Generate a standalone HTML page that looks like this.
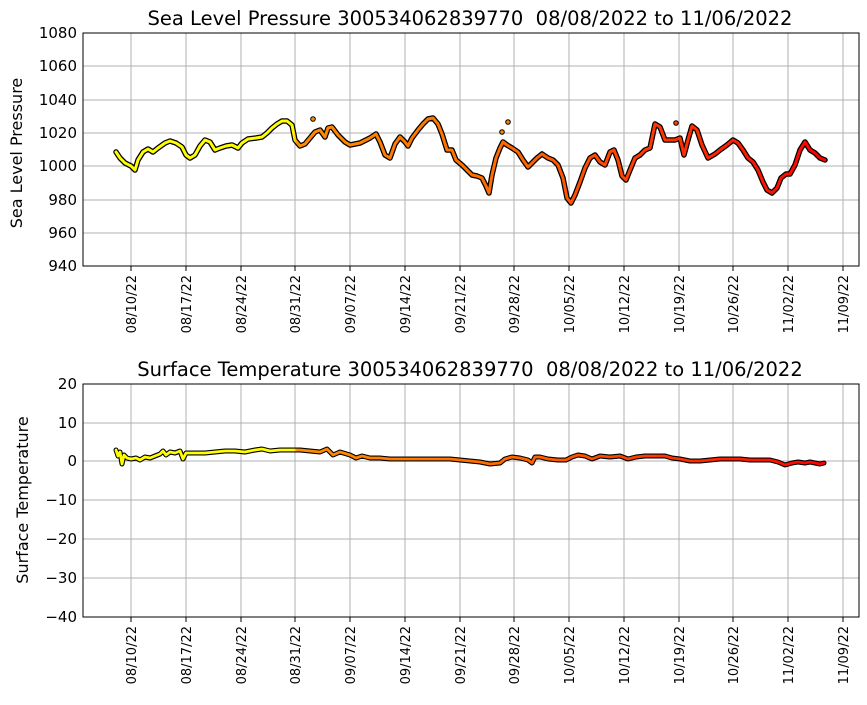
<!DOCTYPE html>
<html><head><meta charset="utf-8"><style>
body{margin:0;background:#fff;}
text{font-family:"DejaVu Sans","Liberation Sans",sans-serif;fill:#000;}
</style></head><body>
<svg width="867" height="700" xmlns="http://www.w3.org/2000/svg">
<defs>
<linearGradient id="g" gradientUnits="userSpaceOnUse" x1="116" y1="0" x2="826" y2="0">
<stop offset="0" stop-color="#ffff00"/>
<stop offset="0.25" stop-color="#ffff00"/>
<stop offset="0.255" stop-color="#ff8c00"/>
<stop offset="0.55" stop-color="#ff6a00"/>
<stop offset="0.75" stop-color="#ff3a00"/>
<stop offset="1" stop-color="#ff0000"/>
</linearGradient>
</defs>
<g stroke="#b0b0b0" stroke-width="1">
<line x1="131" y1="33" x2="131" y2="266"/><line x1="186" y1="33" x2="186" y2="266"/><line x1="241" y1="33" x2="241" y2="266"/><line x1="295" y1="33" x2="295" y2="266"/><line x1="350" y1="33" x2="350" y2="266"/><line x1="405" y1="33" x2="405" y2="266"/><line x1="460" y1="33" x2="460" y2="266"/><line x1="514" y1="33" x2="514" y2="266"/><line x1="569" y1="33" x2="569" y2="266"/><line x1="624" y1="33" x2="624" y2="266"/><line x1="679" y1="33" x2="679" y2="266"/><line x1="733" y1="33" x2="733" y2="266"/><line x1="788" y1="33" x2="788" y2="266"/><line x1="843" y1="33" x2="843" y2="266"/>
<line x1="83" y1="66" x2="859" y2="66"/><line x1="83" y1="100" x2="859" y2="100"/><line x1="83" y1="133" x2="859" y2="133"/><line x1="83" y1="166" x2="859" y2="166"/><line x1="83" y1="200" x2="859" y2="200"/><line x1="83" y1="233" x2="859" y2="233"/>
<line x1="131" y1="384" x2="131" y2="617"/><line x1="186" y1="384" x2="186" y2="617"/><line x1="241" y1="384" x2="241" y2="617"/><line x1="295" y1="384" x2="295" y2="617"/><line x1="350" y1="384" x2="350" y2="617"/><line x1="405" y1="384" x2="405" y2="617"/><line x1="460" y1="384" x2="460" y2="617"/><line x1="514" y1="384" x2="514" y2="617"/><line x1="569" y1="384" x2="569" y2="617"/><line x1="624" y1="384" x2="624" y2="617"/><line x1="679" y1="384" x2="679" y2="617"/><line x1="733" y1="384" x2="733" y2="617"/><line x1="788" y1="384" x2="788" y2="617"/><line x1="843" y1="384" x2="843" y2="617"/>
<line x1="83" y1="423" x2="859" y2="423"/><line x1="83" y1="461" x2="859" y2="461"/><line x1="83" y1="500" x2="859" y2="500"/><line x1="83" y1="539" x2="859" y2="539"/><line x1="83" y1="578" x2="859" y2="578"/>
</g>
<g fill="none" stroke-linejoin="round" stroke-linecap="round">
<polyline stroke="#000" stroke-width="5.5" points="116,152 120,158 125,163 131,166 135,170 138,160 143,152 148,149 153,152 158,148 165,143 170,141 176,143 182,147 186,155 190,158 195,155 200,146 205,140 210,142 215,150 220,148 226,146 232,145 238,148 242,143 248,139 256,138 262,137 267,133 272,128 277,124 282,121 287,121 292,125 295,140 300,146 305,144 310,138 315,132 320,130 325,137 328,128 332,127 338,135 345,142 350,145 360,143 370,138 376,134 380,142 385,155 390,158 395,144 400,137 405,142 408,146 412,138 418,130 423,124 428,119 433,118 438,124 442,134 447,150 452,150 456,160 462,165 467,170 472,175 477,176 482,178 486,186 489,193 492,175 496,158 500,148 503,142 507,145 512,148 518,152 523,160 528,167 532,163 537,158 542,154 548,158 553,160 558,165 563,178 567,198 571,203 575,195 580,182 585,168 590,158 595,155 600,162 605,165 610,152 614,150 618,160 622,176 626,180 630,170 635,158 640,155 645,150 650,148 655,124 660,127 665,140 670,140 675,140 680,138 684,155 688,140 692,126 697,130 702,145 708,158 715,154 720,150 727,145 733,140 738,143 743,150 748,158 753,162 758,170 763,182 767,190 772,193 777,188 781,178 786,174 790,174 795,165 800,150 805,142 810,150 815,153 820,158 825,160"/>
<polyline stroke="url(#g)" stroke-width="3" points="116,152 120,158 125,163 131,166 135,170 138,160 143,152 148,149 153,152 158,148 165,143 170,141 176,143 182,147 186,155 190,158 195,155 200,146 205,140 210,142 215,150 220,148 226,146 232,145 238,148 242,143 248,139 256,138 262,137 267,133 272,128 277,124 282,121 287,121 292,125 295,140 300,146 305,144 310,138 315,132 320,130 325,137 328,128 332,127 338,135 345,142 350,145 360,143 370,138 376,134 380,142 385,155 390,158 395,144 400,137 405,142 408,146 412,138 418,130 423,124 428,119 433,118 438,124 442,134 447,150 452,150 456,160 462,165 467,170 472,175 477,176 482,178 486,186 489,193 492,175 496,158 500,148 503,142 507,145 512,148 518,152 523,160 528,167 532,163 537,158 542,154 548,158 553,160 558,165 563,178 567,198 571,203 575,195 580,182 585,168 590,158 595,155 600,162 605,165 610,152 614,150 618,160 622,176 626,180 630,170 635,158 640,155 645,150 650,148 655,124 660,127 665,140 670,140 675,140 680,138 684,155 688,140 692,126 697,130 702,145 708,158 715,154 720,150 727,145 733,140 738,143 743,150 748,158 753,162 758,170 763,182 767,190 772,193 777,188 781,178 786,174 790,174 795,165 800,150 805,142 810,150 815,153 820,158 825,160"/>
<g stroke="#000" stroke-width="1"><circle cx="313" cy="119" r="2.3" fill="#ff8c00"/><circle cx="502" cy="132" r="2.3" fill="#ff8000"/><circle cx="508" cy="122" r="2.3" fill="#ff8000"/><circle cx="676" cy="123" r="2.3" fill="#ff4000"/></g>
</g>
<g fill="none" stroke-linejoin="round" stroke-linecap="round">
<polyline stroke="#000" stroke-width="5" points="116,450 118,456 120,452 122,464 124,455 127,458 131,459 136,458 140,460 145,457 150,458 155,456 160,454 163,451 166,455 170,452 175,453 180,451 183,459 186,453 195,453 205,453 215,452 225,451 235,451 245,452 255,450 262,449 270,451 280,450 290,450 300,450 310,451 320,452 327,449 333,455 340,452 350,455 356,458 362,456 370,458 380,458 390,459 400,459 410,459 420,459 430,459 440,459 450,459 460,460 470,461 480,462 490,464 500,463 505,459 512,457 520,458 528,460 532,463 535,457 540,457 548,459 558,460 566,460 572,457 578,455 585,456 592,459 600,456 610,457 620,456 628,459 636,457 645,456 655,456 665,456 672,458 680,459 690,461 700,461 710,460 720,459 730,459 740,459 750,460 760,460 770,460 778,462 785,465 792,463 798,462 805,463 810,462 815,463 820,464 824,463"/>
<polyline stroke="url(#g)" stroke-width="2.8" points="116,450 118,456 120,452 122,464 124,455 127,458 131,459 136,458 140,460 145,457 150,458 155,456 160,454 163,451 166,455 170,452 175,453 180,451 183,459 186,453 195,453 205,453 215,452 225,451 235,451 245,452 255,450 262,449 270,451 280,450 290,450 300,450 310,451 320,452 327,449 333,455 340,452 350,455 356,458 362,456 370,458 380,458 390,459 400,459 410,459 420,459 430,459 440,459 450,459 460,460 470,461 480,462 490,464 500,463 505,459 512,457 520,458 528,460 532,463 535,457 540,457 548,459 558,460 566,460 572,457 578,455 585,456 592,459 600,456 610,457 620,456 628,459 636,457 645,456 655,456 665,456 672,458 680,459 690,461 700,461 710,460 720,459 730,459 740,459 750,460 760,460 770,460 778,462 785,465 792,463 798,462 805,463 810,462 815,463 820,464 824,463"/>
</g>
<rect x="83" y="33" width="776" height="233" fill="none" stroke="#000" stroke-width="1"/>
<rect x="83" y="384" width="776" height="233" fill="none" stroke="#000" stroke-width="1"/>
<g font-size="15" text-anchor="end">
<text x="77" y="38">1080</text><text x="77" y="71">1060</text><text x="77" y="105">1040</text><text x="77" y="138">1020</text><text x="77" y="171">1000</text><text x="77" y="205">980</text><text x="77" y="238">960</text><text x="77" y="271">940</text>
<text x="77" y="389">20</text><text x="77" y="428">10</text><text x="77" y="466">0</text><text x="77" y="505">−10</text><text x="77" y="544">−20</text><text x="77" y="583">−30</text><text x="77" y="622">−40</text>
</g>
<g stroke="#000"><g id="tk">
<line x1="131" y1="266" x2="131" y2="271"/><line x1="186" y1="266" x2="186" y2="271"/><line x1="241" y1="266" x2="241" y2="271"/><line x1="295" y1="266" x2="295" y2="271"/><line x1="350" y1="266" x2="350" y2="271"/><line x1="405" y1="266" x2="405" y2="271"/><line x1="460" y1="266" x2="460" y2="271"/><line x1="514" y1="266" x2="514" y2="271"/><line x1="569" y1="266" x2="569" y2="271"/><line x1="624" y1="266" x2="624" y2="271"/><line x1="679" y1="266" x2="679" y2="271"/><line x1="733" y1="266" x2="733" y2="271"/><line x1="788" y1="266" x2="788" y2="271"/><line x1="843" y1="266" x2="843" y2="271"/></g>
<use href="#tk" y="351"/></g>
<g font-size="13" text-anchor="end">
<text transform="translate(136,275) rotate(-90)">08/10/22</text><text transform="translate(191,275) rotate(-90)">08/17/22</text><text transform="translate(246,275) rotate(-90)">08/24/22</text><text transform="translate(300,275) rotate(-90)">08/31/22</text><text transform="translate(355,275) rotate(-90)">09/07/22</text><text transform="translate(410,275) rotate(-90)">09/14/22</text><text transform="translate(465,275) rotate(-90)">09/21/22</text><text transform="translate(519,275) rotate(-90)">09/28/22</text><text transform="translate(574,275) rotate(-90)">10/05/22</text><text transform="translate(629,275) rotate(-90)">10/12/22</text><text transform="translate(684,275) rotate(-90)">10/19/22</text><text transform="translate(738,275) rotate(-90)">10/26/22</text><text transform="translate(793,275) rotate(-90)">11/02/22</text><text transform="translate(848,275) rotate(-90)">11/09/22</text>
</g>
<g font-size="13" text-anchor="end">
<text transform="translate(136,626) rotate(-90)">08/10/22</text><text transform="translate(191,626) rotate(-90)">08/17/22</text><text transform="translate(246,626) rotate(-90)">08/24/22</text><text transform="translate(300,626) rotate(-90)">08/31/22</text><text transform="translate(355,626) rotate(-90)">09/07/22</text><text transform="translate(410,626) rotate(-90)">09/14/22</text><text transform="translate(465,626) rotate(-90)">09/21/22</text><text transform="translate(519,626) rotate(-90)">09/28/22</text><text transform="translate(574,626) rotate(-90)">10/05/22</text><text transform="translate(629,626) rotate(-90)">10/12/22</text><text transform="translate(684,626) rotate(-90)">10/19/22</text><text transform="translate(738,626) rotate(-90)">10/26/22</text><text transform="translate(793,626) rotate(-90)">11/02/22</text><text transform="translate(848,626) rotate(-90)">11/09/22</text>
</g>
<g font-size="19.5" text-anchor="middle">
<text x="470" y="25">Sea Level Pressure 300534062839770&#160; 08/08/2022 to 11/06/2022</text>
<text x="470" y="376">Surface Temperature 300534062839770&#160; 08/08/2022 to 11/06/2022</text>
</g>
<g font-size="16" text-anchor="middle">
<text transform="translate(22,153) rotate(-90)">Sea Level Pressure</text>
<text transform="translate(28,500) rotate(-90)">Surface Temperature</text>
</g>
</svg>
</body></html>
